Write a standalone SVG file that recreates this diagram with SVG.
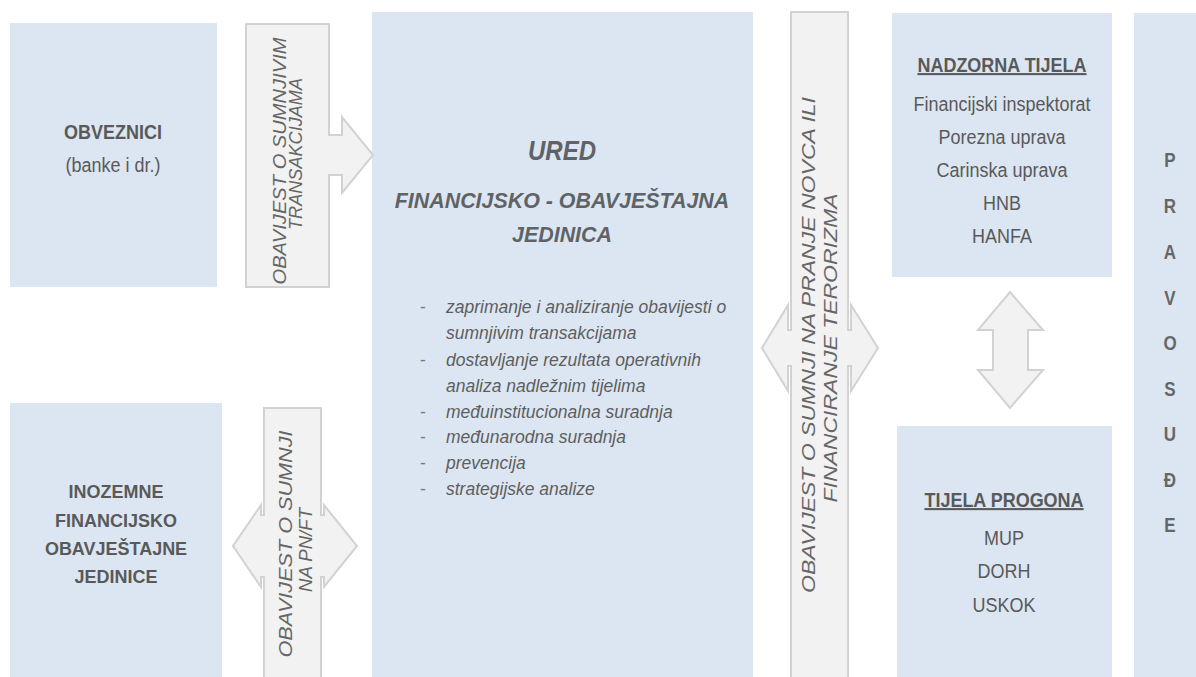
<svg xmlns="http://www.w3.org/2000/svg" width="1196" height="677" viewBox="0 0 1196 677">
  <style>
    .box { fill: #dce6f2; }
    .arrow { fill: #f2f2f2; stroke: #d2d2d2; stroke-width: 2; stroke-linejoin: miter; }
    text { font-family: "Liberation Sans", Arial, sans-serif; fill: #595959; }
    .hdr { font-weight: bold; font-size: 18px; text-anchor: middle; }
    .reg { font-size: 18px; text-anchor: middle; }
    .title { font-weight: bold; font-style: italic; text-anchor: middle; fill: #5f6366; }
    .item { font-style: italic; font-size: 17.5px; fill: #5e5e5e; }
    .dash { font-size: 17.5px; fill: #7a7a7a; }
    .lbl { font-style: italic; font-size: 18px; text-anchor: middle; fill: #666666; }
    .ul { text-decoration: underline; }
    .vert { font-weight: bold; font-size: 17px; text-anchor: middle; fill: #666666; }
  </style>

  <rect width="1196" height="677" fill="#ffffff"/>

  <!-- reporting entities -->
  <g id="obveznici">
    <rect class="box" x="10" y="23" width="207" height="264"/>
    <text class="hdr" transform="matrix(1,0,0,1.1,113,139)">OBVEZNICI</text>
    <text class="reg" transform="matrix(1,0,0,1.1,113,172)">(banke i dr.)</text>
  </g>

  <!-- foreign FIUs -->
  <g id="inozemne-fojs">
    <rect class="box" x="10" y="403" width="212" height="280"/>
    <text class="hdr" transform="matrix(1,0,0,1.05,116,498)">INOZEMNE</text>
    <text class="hdr" transform="matrix(1,0,0,1.05,116,527)">FINANCIJSKO</text>
    <text class="hdr" transform="matrix(1,0,0,1.05,116,555)">OBAVJEŠTAJNE</text>
    <text class="hdr" transform="matrix(1,0,0,1.05,116,583)">JEDINICE</text>
  </g>

  <!-- the office itself -->
  <g id="ured">
    <rect class="box" x="372" y="12" width="381" height="670"/>
    <text class="title" transform="matrix(1,0,0,1.15,562,160)" font-size="24">URED</text>
    <text class="title" transform="matrix(1,0,0,1.05,562,208)" font-size="21.4">FINANCIJSKO - OBAVJEŠTAJNA</text>
    <text class="title" transform="matrix(1,0,0,1.05,562,242)" font-size="21.4">JEDINICA</text>
    <g>
      <text class="dash" x="420" y="313">-</text>
      <text class="item" x="446" y="313">zaprimanje i analiziranje obavijesti o</text>
      <text class="item" x="446" y="339">sumnjivim transakcijama</text>
      <text class="dash" x="420" y="366">-</text>
      <text class="item" x="446" y="366">dostavljanje rezultata operativnih</text>
      <text class="item" x="446" y="392">analiza nadležnim tijelima</text>
      <text class="dash" x="420" y="418">-</text>
      <text class="item" x="446" y="418">međuinstitucionalna suradnja</text>
      <text class="dash" x="420" y="443">-</text>
      <text class="item" x="446" y="443">međunarodna suradnja</text>
      <text class="dash" x="420" y="469">-</text>
      <text class="item" x="446" y="469">prevencija</text>
      <text class="dash" x="420" y="495">-</text>
      <text class="item" x="446" y="495">strategijske analize</text>
    </g>
  </g>

  <!-- supervisory bodies -->
  <g id="nadzorna-tijela">
    <rect class="box" x="892" y="13" width="220" height="264"/>
    <text class="hdr ul" transform="matrix(1,0,0,1.15,1002,72)">NADZORNA TIJELA</text>
    <text class="reg" transform="matrix(1,0,0,1.12,1002,111)">Financijski inspektorat</text>
    <text class="reg" transform="matrix(1,0,0,1.12,1002,144)">Porezna uprava</text>
    <text class="reg" transform="matrix(1,0,0,1.12,1002,177)">Carinska uprava</text>
    <text class="reg" transform="matrix(1,0,0,1.12,1002,210)">HNB</text>
    <text class="reg" transform="matrix(1,0,0,1.12,1002,243)">HANFA</text>
  </g>

  <!-- law enforcement -->
  <g id="tijela-progona">
    <rect class="box" x="897" y="426" width="215" height="260"/>
    <text class="hdr ul" transform="matrix(1,0,0,1.15,1004,507)">TIJELA PROGONA</text>
    <text class="reg" transform="matrix(1,0,0,1.12,1004,545)">MUP</text>
    <text class="reg" transform="matrix(1,0,0,1.12,1004,578)">DORH</text>
    <text class="reg" transform="matrix(1,0,0,1.12,1004,612)">USKOK</text>
  </g>

  <!-- judiciary, spelled vertically -->
  <g id="pravosude">
    <rect class="box" x="1134" y="13" width="70" height="670"/>
    <text class="vert" transform="matrix(1,0,0,1.2,1170,167)">P</text>
    <text class="vert" transform="matrix(1,0,0,1.2,1170,213)">R</text>
    <text class="vert" transform="matrix(1,0,0,1.2,1170,259)">A</text>
    <text class="vert" transform="matrix(1,0,0,1.2,1170,305)">V</text>
    <text class="vert" transform="matrix(1,0,0,1.2,1170,350)">O</text>
    <text class="vert" transform="matrix(1,0,0,1.2,1170,396)">S</text>
    <text class="vert" transform="matrix(1,0,0,1.2,1170,441)">U</text>
    <text class="vert" transform="matrix(1,0,0,1.2,1170,487)">Đ</text>
    <text class="vert" transform="matrix(1,0,0,1.2,1170,532)">E</text>
  </g>

  <!-- callout arrows between the bodies -->
  <g id="connectors">
    <g id="arrow-str">
      <polygon class="arrow" points="246,24 329,24 329,135 342,135 342,117 373,155 342,193 342,175 329,175 329,287 246,287"/>
      <text class="lbl" transform="translate(286,161) rotate(-90)" textLength="247" lengthAdjust="spacingAndGlyphs">OBAVIJEST O SUMNJIVIM</text>
      <text class="lbl" transform="translate(302,154) rotate(-90)" textLength="152" lengthAdjust="spacingAndGlyphs">TRANSAKCIJAMA</text>
    </g>
    <g id="arrow-pnft">
      <polygon class="arrow" points="264,408 321,408 321,515 324,515 324,505 357,546 324,587 324,577 321,577 321,690 264,690 264,577 261,577 261,587 233,546 261,505 261,515 264,515"/>
      <text class="lbl" transform="translate(292,544) rotate(-90)" textLength="227" lengthAdjust="spacingAndGlyphs">OBAVIJEST O SUMNJI</text>
      <text class="lbl" transform="translate(312,550) rotate(-90)" textLength="84" lengthAdjust="spacingAndGlyphs">NA PN/FT</text>
    </g>
    <g id="arrow-competent">
      <polygon class="arrow" points="791,12 848,12 848,330 851,330 851,305 878,348 851,391 851,366 848,366 848,690 791,690 791,366 788,366 788,391 762,348 788,305 788,330 791,330"/>
      <text class="lbl" transform="translate(815,345) rotate(-90)" textLength="496" lengthAdjust="spacingAndGlyphs">OBAVIJEST O SUMNJI NA PRANJE NOVCA ILI</text>
      <text class="lbl" transform="translate(837,348) rotate(-90)" textLength="309" lengthAdjust="spacingAndGlyphs">FINANCIRANJE TERORIZMA</text>
    </g>
    <g id="arrow-cooperation">
      <polygon class="arrow" points="1010,292 1043,330 1028,330 1028,370 1043,370 1010,408 978,370 993,370 993,330 978,330"/>
    </g>
  </g>
</svg>
